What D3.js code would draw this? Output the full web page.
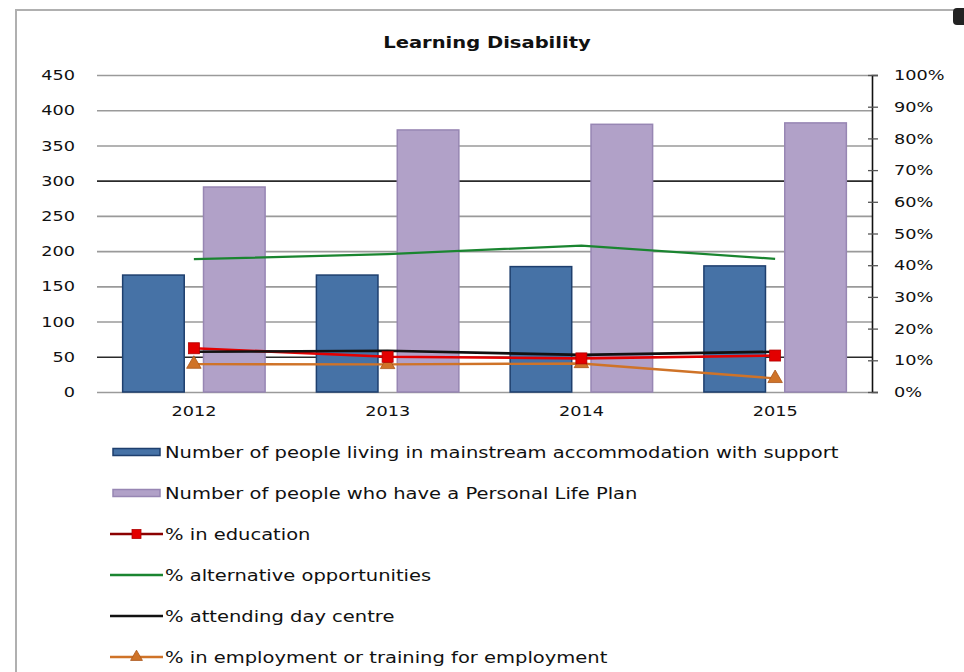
<!DOCTYPE html>
<html>
<head>
<meta charset="utf-8">
<script src="https://cdn.jsdelivr.net/npm/d3@7"></script>
<style>
  html, body { margin: 0; padding: 0; background: #fff; }
  svg { display: block; }
  text { font-family: "DejaVu Sans", Verdana, sans-serif; fill: #111; }
</style>
</head>
<body>
<svg id="chart" width="964" height="672"></svg>
<script>
// ---- data ----
const title = "Learning Disability";
const years = ["2012", "2013", "2014", "2015"];
const barSeriesNames = [
  "Number of people living in mainstream accommodation with support",
  "Number of people who have a Personal Life Plan"
];
const mainstreamAccommodation = [166, 166, 178, 179];
const personalLifePlan = [291, 372, 380, 382];
const lineSeriesNames = [
  "% in education",
  "% alternative opportunities",
  "% attending day centre",
  "% in employment or training for employment"
];
const pctEducation = [13.8, 11.1, 10.6, 11.5];
const pctAlternative = [41.9, 43.5, 46.2, 42.0];
const pctDayCentre = [12.7, 13.0, 11.7, 12.7];
const pctEmployment = [8.8, 8.7, 9.0, 4.3];
const leftTicks = [0, 50, 100, 150, 200, 250, 300, 350, 400, 450];
const rightTicks = [0, 10, 20, 30, 40, 50, 60, 70, 80, 90, 100];

// ---- layout / style ----
const STRETCH = 1.22;
const LEGEND_STRETCH = 1.3;
const plot = { left: 97, right: 872, top: 75, bottom: 392 };
const barColors = [
  { fill: "#4672a6", stroke: "#1e3f6e" },
  { fill: "#b1a1c8", stroke: "#9786b3" }
];
const lineStyles = [
  { color: "#e30000", marker: "square", width: 2.6 },
  { color: "#1a8530", marker: null, width: 2.2 },
  { color: "#111111", marker: null, width: 2.6 },
  { color: "#cf7328", marker: "triangle", width: 2.4 }
];

const svg = d3.select("#chart");

function stretch(sel, f) {
  sel.each(function () {
    const len = this.getComputedTextLength();
    d3.select(this).attr("textLength", len * (f || STRETCH)).attr("lengthAdjust", "spacingAndGlyphs");
  });
  return sel;
}

// frame
svg.append("rect").attr("x", 16).attr("y", 10).attr("width", 980).attr("height", 700)
  .attr("fill", "none").attr("stroke", "#b0b0b0").attr("stroke-width", 2);
svg.append("rect").attr("x", 953).attr("y", 8).attr("width", 16).attr("height", 17).attr("rx", 4)
  .attr("fill", "#222");

// scales
const x0 = d3.scaleBand().domain(years).range([plot.left, plot.right])
  .paddingInner(0.257).paddingOuter(0.1285);
const x1 = d3.scaleBand().domain([0, 1]).range([0, x0.bandwidth()]).paddingInner(0.22);
const yL = d3.scaleLinear().domain([0, 450]).range([plot.bottom, plot.top]);
const yR = d3.scaleLinear().domain([0, 100]).range([plot.bottom, plot.top]);
const xc = d => x0(d) + x0.bandwidth() / 2;

// gridlines via left axis
const gridAxis = d3.axisLeft(yL).tickValues(leftTicks)
  .tickSize(-(plot.right - plot.left)).tickFormat("");
const gGrid = svg.append("g").attr("transform", `translate(${plot.left},0)`).call(gridAxis);
gGrid.select(".domain").remove();
gGrid.selectAll(".tick line")
  .attr("stroke", d => (d === 300 || d === 50) ? "#2a2a2a" : "#9a9a9a")
  .attr("stroke-width", 1.6);

// left labels
const gLeft = svg.append("g").attr("transform", `translate(${plot.left},0)`)
  .call(d3.axisLeft(yL).tickValues(leftTicks).tickSize(0).tickPadding(22));
gLeft.select(".domain").remove();
gLeft.selectAll("text").style("font-size", "14.5px").attr("fill", "#111")
  .style("font-family", '"DejaVu Sans", sans-serif');
stretch(gLeft.selectAll("text"));

// right axis
const gRight = svg.append("g").attr("transform", `translate(${plot.right},0)`)
  .call(d3.axisRight(yR).tickValues(rightTicks).tickFormat(d => d + "%").tickSize(6).tickPadding(16));
gRight.select(".domain").attr("stroke", "#111").attr("stroke-width", 1.6);
gRight.selectAll(".tick line").attr("stroke", "#555").attr("stroke-width", 1.3).attr("x1", -4);
gRight.selectAll("text").style("font-size", "14.5px").attr("fill", "#111")
  .style("font-family", '"DejaVu Sans", sans-serif');
stretch(gRight.selectAll("text"));

// bottom axis labels
const gBottom = svg.append("g").attr("transform", `translate(0,${plot.bottom})`)
  .call(d3.axisBottom(x0).tickSize(0).tickPadding(14));
gBottom.select(".domain").remove();
gBottom.selectAll("text").style("font-size", "14.5px").attr("fill", "#111")
  .style("font-family", '"DejaVu Sans", sans-serif');
stretch(gBottom.selectAll("text"));

// bars
const barData = years.map((y, i) => ({ year: y, vals: [mainstreamAccommodation[i], personalLifePlan[i]] }));
const groups = svg.append("g").selectAll("g").data(barData).join("g")
  .attr("transform", d => `translate(${x0(d.year)},0)`);
groups.selectAll("rect").data(d => d.vals.map((v, k) => ({ v, k }))).join("rect")
  .attr("x", d => x1(d.k) + 0.75)
  .attr("width", x1.bandwidth() - 1.5)
  .attr("y", d => yL(d.v))
  .attr("height", d => yL(0) - yL(d.v))
  .attr("fill", d => barColors[d.k].fill)
  .attr("stroke", d => barColors[d.k].stroke)
  .attr("stroke-width", 1.5);

// lines
const lineSeries = [pctEducation, pctAlternative, pctDayCentre, pctEmployment];
const lineGen = d3.line().x((d, i) => xc(years[i])).y(d => yR(d));
const order = [3, 1, 0, 2];
order.forEach(si => {
  const st = lineStyles[si];
  svg.append("path").datum(lineSeries[si])
    .attr("d", lineGen).attr("fill", "none")
    .attr("stroke", st.color).attr("stroke-width", st.width).attr("stroke-linejoin", "round");
});
function drawMarker(g, type, cx, cy, color, size) {
  if (type === "square") {
    g.append("rect").attr("x", cx - size / 2).attr("y", cy - size / 2).attr("width", size).attr("height", size)
      .attr("fill", color).attr("stroke", "#b00000").attr("stroke-width", 0.8);
  } else if (type === "triangle") {
    g.append("path").attr("d", d3.symbol(d3.symbolTriangle, size * size * 0.75)())
      .attr("transform", `translate(${cx},${cy})`)
      .attr("fill", color).attr("stroke", "#a9561a").attr("stroke-width", 0.8);
  }
}
const gMarks = svg.append("g");
order.forEach(si => {
  const st = lineStyles[si];
  if (!st.marker) return;
  lineSeries[si].forEach((v, i) => drawMarker(gMarks, st.marker, xc(years[i]), yR(v), st.color, 11));
});

// title
const t = svg.append("text").attr("x", 487).attr("y", 48).attr("text-anchor", "middle")
  .style("font-size", "16px").style("font-weight", "bold").text(title);
stretch(t);

// legend
const legendItems = [
  { name: barSeriesNames[0], kind: "bar", style: barColors[0] },
  { name: barSeriesNames[1], kind: "bar", style: barColors[1] },
  { name: lineSeriesNames[0], kind: "line", style: lineStyles[0] },
  { name: lineSeriesNames[1], kind: "line", style: lineStyles[1] },
  { name: lineSeriesNames[2], kind: "line", style: lineStyles[2] },
  { name: lineSeriesNames[3], kind: "line", style: lineStyles[3] }
];
const legendTop = 452, legendStep = 41;
const gLeg = svg.append("g");
legendItems.forEach((it, i) => {
  const cy = legendTop + i * legendStep;
  if (it.kind === "bar") {
    gLeg.append("rect").attr("x", 113).attr("y", cy - 3.5).attr("width", 47).attr("height", 7)
      .attr("fill", it.style.fill).attr("stroke", it.style.stroke).attr("stroke-width", 1.5);
  } else {
    gLeg.append("line").attr("x1", 110).attr("x2", 163).attr("y1", cy).attr("y2", cy)
      .attr("stroke", i === 2 ? "#8b0000" : it.style.color).attr("stroke-width", 2.6);
    if (it.style.marker) drawMarker(gLeg, it.style.marker, 136.5, cy, it.style.color, 9);
  }
  const tx = gLeg.append("text").attr("x", 165).attr("y", cy + 5.5).style("font-size", "15px").text(it.name);
  stretch(tx, LEGEND_STRETCH);
});
</script>
</body>
</html>
